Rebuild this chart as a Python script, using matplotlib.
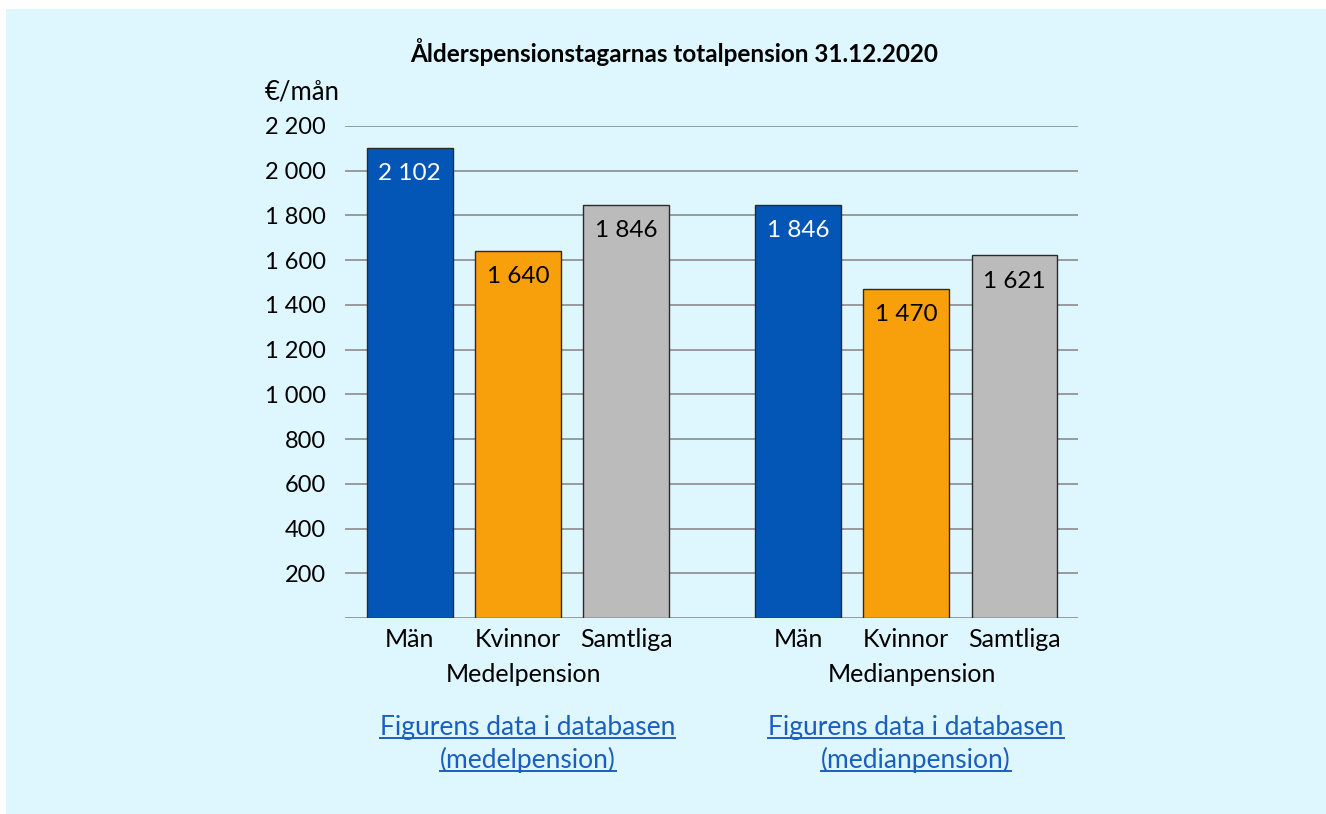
import numpy as np
import matplotlib.pyplot as plt
from matplotlib.patches import Rectangle
from matplotlib.lines import Line2D

plt.rcParams['font.family'] = ['Lato', 'DejaVu Sans']

title = "Ålderspensionstagarnas totalpension 31.12.2020"
unit = "€/mån"
categories = ["Män", "Kvinnor", "Samtliga"]
groups = ["Medelpension", "Medianpension"]
medel = [2102, 1640, 1846]
median = [1846, 1470, 1621]
links = [["Figurens data i databasen", "(medelpension)"],
         ["Figurens data i databasen", "(medianpension)"]]
colors = ["#0456b6", "#f8a00c", "#bbbbbb"]
label_colors = ["white", "black", "black"]
yticks = list(range(200, 2201, 200))
link_color = "#1a5fc0"


def fmt(v):
    return f"{v:,}".replace(",", " ")


W, H = 1326, 814
fig = plt.figure(figsize=(W / 100, H / 100), dpi=100, facecolor="white")
fig.patches.append(Rectangle((6 / W, 0), 1 - 6 / W, 1 - 9 / H,
                             transform=fig.transFigure, facecolor="#def6fe",
                             edgecolor="none", zorder=-10))

ax = fig.add_axes([345 / W, 1 - 618 / H, (1078 - 345) / W, (618 - 126) / H])
ax.set_facecolor("none")

gap = 3.59
x1 = np.arange(3)
x2 = np.arange(3) + gap
for xs, vals in [(x1, medel), (x2, median)]:
    bars = ax.bar(xs, vals, width=0.79, color=colors, edgecolor="#2a2a2a",
                  linewidth=1, zorder=3)
    for b, v, lc in zip(bars, vals, label_colors):
        ax.annotate(fmt(v), (b.get_x() + b.get_width() / 2, v),
                    xytext=(0, -18.5), textcoords="offset points",
                    ha="center", va="center", fontsize=17.5, color=lc, zorder=4)

ax.set_xlim(-0.6, 2 + gap + 0.59)
ax.set_ylim(0, 2200)
ax.set_yticks([0] + yticks)
ax.set_yticklabels([""] + [fmt(t) for t in yticks], fontsize=17)
ax.yaxis.grid(True, color="#8c8c8c", linewidth=1.2, zorder=0)
ax.tick_params(axis="y", length=0, pad=14)
ax.tick_params(axis="x", length=0, pad=7)
ax.set_xticks(list(x1) + list(x2))
ax.set_xticklabels(categories * 2, fontsize=18)
for s in ax.spines.values():
    s.set_visible(False)

link_texts = []
for xs, g, lk in zip([x1, x2], groups, links):
    ax.annotate(g, (xs[1], 0), xytext=(4, -41), textcoords="offset points",
                ha="center", va="center", fontsize=18)
    for line, dy in zip(lk, [-79, -102]):
        t = ax.annotate(line, (xs[1], 0), xytext=(7, dy),
                        textcoords="offset points", ha="center",
                        va="center", fontsize=19, color=link_color)
        link_texts.append(t)

fig.text(674 / W, 1 - 52 / H, title, ha="center", va="center",
         fontsize=17.5, fontweight="bold")
fig.text(265 / W, 1 - 92 / H, unit, ha="left", va="center", fontsize=18.5)

# underline the link texts
fig.canvas.draw()
r = fig.canvas.get_renderer()
for t in link_texts:
    bb = t.get_window_extent(r)
    y = bb.y0 + 2
    fig.add_artist(Line2D([bb.x0 / W, bb.x1 / W], [y / H, y / H],
                          transform=fig.transFigure, color=link_color,
                          linewidth=1.4))

fig.savefig("out.png", dpi=100, facecolor="white")
